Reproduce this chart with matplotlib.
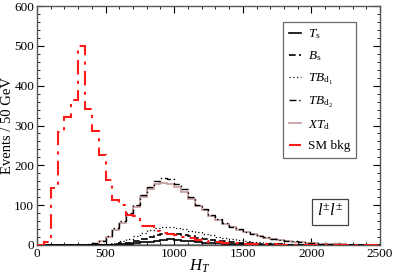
import numpy as np
import matplotlib
matplotlib.use("Agg")
import matplotlib.pyplot as plt
from matplotlib.ticker import MultipleLocator
from matplotlib.lines import Line2D

plt.rcParams['font.family'] = ['Liberation Serif', 'DejaVu Serif']
plt.rcParams['mathtext.fontset'] = 'custom'
plt.rcParams['mathtext.rm'] = 'Liberation Serif'
plt.rcParams['mathtext.it'] = 'Liberation Serif:italic'

edges = np.arange(0, 2550, 50)

sm_bkg = [0, 8, 143, 283, 322, 364, 500, 342, 285, 227, 162, 112, 100, 75, 73,
          48, 48, 35, 30, 28, 25, 20, 17, 12, 10, 8, 7, 5, 4, 4,
          3, 3, 2, 2, 2, 1, 1, 1, 1, 1, 0, 0, 0, 0, 0, 0, 0, 0, 0, 0]

xt_d = [0, 0, 0, 0, 0, 0.5, 1, 1, 3, 9, 19, 38, 55, 75, 95,
        120, 140, 153, 156, 153, 145, 133, 115, 98, 87, 72, 62, 52, 45, 38,
        32, 27, 22, 18, 14, 12, 10, 8, 7, 6, 4, 3, 3, 2, 2, 1, 1, 1, 0.5, 0.5]

tb_d2 = [0, 0, 0, 0, 0, 0.5, 1, 2, 4, 10, 22, 42, 60, 80, 100,
         125, 145, 160, 168, 165, 152, 140, 120, 100, 90, 75, 64, 54, 46, 40,
         33, 28, 22, 19, 15, 13, 11, 9, 7, 6, 4, 3, 3, 2, 2, 1, 1, 1, 0.5, 0.5]

tb_d1 = [0, 0, 0, 0, 0, 0, 0, 0.5, 1, 2, 3, 6, 10, 15, 22,
         30, 38, 43, 45, 44, 42, 40, 36, 32, 27, 24, 20, 17, 15, 12,
         10, 8, 7, 6, 5, 4, 3, 3, 2, 2, 2, 1, 1, 1, 0.5, 0.5, 0, 0, 0, 0]

b_s = [0, 0, 0, 0, 0, 0, 0, 0, 0.5, 0.5, 1, 2, 4, 6, 10,
       15, 20, 25, 28, 28, 27, 25, 22, 18, 15, 13, 11, 9, 7, 6,
       5, 4, 3, 3, 2, 2, 1, 1, 1, 1, 0.5, 0.5, 0, 0, 0, 0, 0, 0, 0, 0]

t_s = [0, 0, 0, 0, 0, 0, 0, 0, 0.5, 0.5, 1, 1, 2, 3, 5,
       7, 8, 10, 12, 14, 12, 10, 9, 8, 6, 5, 4, 3, 3, 2,
       2, 1, 1, 1, 1, 0.5, 0.5, 0, 0, 0, 0, 0, 0, 0, 0, 0, 0, 0, 0, 0]

gray_base = [0, 0, 0, 0, 0, 0, 1, 1, 2, 2, 2, 3, 3, 3, 3,
             3, 3, 3, 3, 3, 3, 3, 3, 3, 3, 3, 3, 3, 3, 3,
             2, 2, 2, 1, 1, 1, 1, 0, 0, 0, 0, 0, 0, 0, 0, 0, 0, 0, 0, 0]

labels = [r'$T_{\mathrm{s}}$', r'$B_{\mathrm{s}}$', r'$TB_{\mathrm{d}_1}$',
          r'$TB_{\mathrm{d}_2}$', r'$XT_{\mathrm{d}}$', 'SM bkg']

fig = plt.figure(figsize=(3.93, 2.78), dpi=100)
ax = fig.add_axes([0.094, 0.119, 0.873, 0.859])

styles = [
    (t_s, dict(color='black', lw=1.2, linestyle='-')),
    (b_s, dict(color='black', lw=1.2, linestyle=(0, (4, 2)))),
    (tb_d1, dict(color='black', lw=0.9, linestyle=(0, (1, 2)))),
    (tb_d2, dict(color='black', lw=1.0, linestyle=(0, (5, 2, 1, 2)))),
    (xt_d, dict(color='#c49a9a', lw=1.2, linestyle='-')),
    (sm_bkg, dict(color='#ff1a1a', lw=1.5, linestyle=(0, (7, 3, 1.5, 3)))),
]
zorders = [4, 4, 4, 4, 3, 5]

ax.stairs(gray_base, edges, fill=True, color='#9a9a9a', lw=0)
handles = []
for (vals, st), z in zip(styles, zorders):
    ax.stairs(vals, edges, zorder=z, **st)
    handles.append(Line2D([], [], **st))

ax.set_xlim(0, 2500)
ax.set_ylim(0, 600)
ax.xaxis.set_major_locator(MultipleLocator(500))
ax.xaxis.set_minor_locator(MultipleLocator(100))
ax.yaxis.set_major_locator(MultipleLocator(100))
ax.yaxis.set_minor_locator(MultipleLocator(20))
ax.tick_params(which='both', direction='in', top=True, right=True, labelsize=9.5, pad=2)
ax.tick_params(which='major', length=5, width=0.8)
ax.tick_params(which='minor', length=2.5, width=0.6)
for s in ax.spines.values():
    s.set_linewidth(1.0)
    s.set_color('#555555')

ax.set_xlabel(r'$H_T$', fontsize=12)
ax.xaxis.set_label_coords(0.475, -0.055)
ax.set_ylabel('Events / 50 GeV', fontsize=10.5)
ax.yaxis.set_label_coords(-0.066, 0.5)

leg = ax.legend(handles, labels, loc='upper left', bbox_to_anchor=(0.717, 0.935),
                fontsize=9.5, frameon=True, fancybox=False, edgecolor='#444444',
                handlelength=0.95, handletextpad=0.5, labelspacing=0.62,
                borderpad=0.45, borderaxespad=0)
leg.get_frame().set_linewidth(0.9)

ax.text(0.855, 0.138, r'$l^{\pm}l^{\pm}$', transform=ax.transAxes, fontsize=12,
        ha='center', va='center',
        bbox=dict(boxstyle='square,pad=0.3', fc='white', ec='#444444', lw=0.9))

fig.savefig('out.png', dpi=100)
